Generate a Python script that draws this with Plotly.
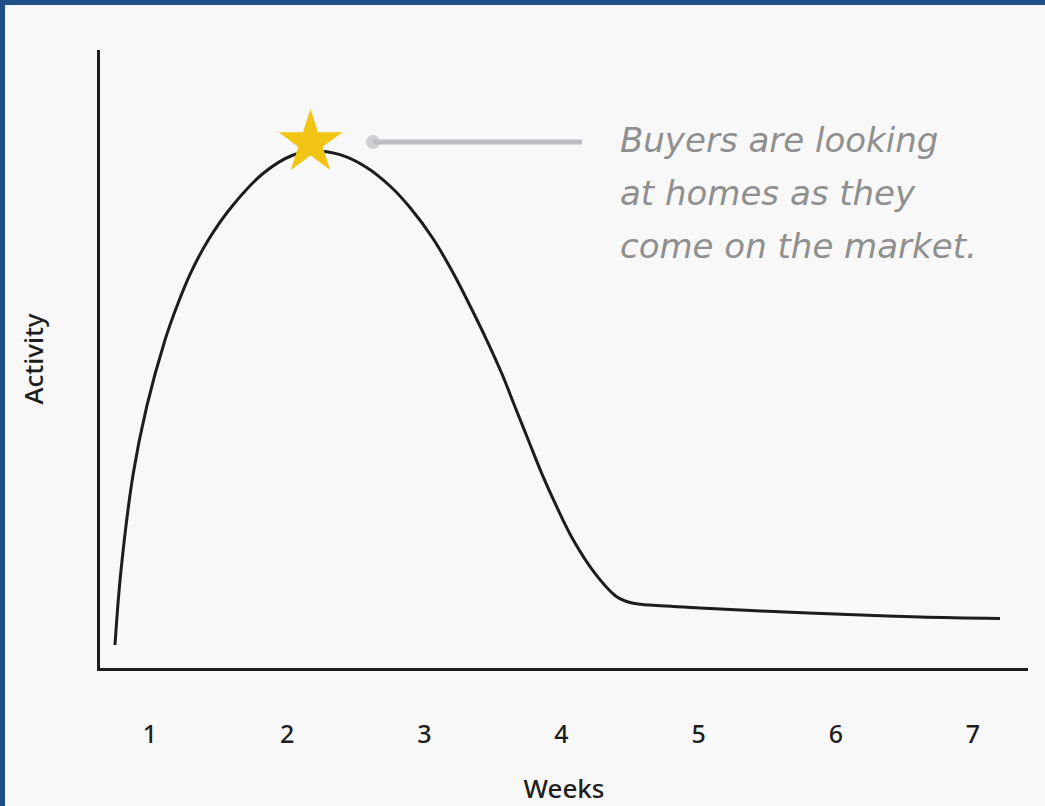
import plotly.graph_objects as go

# Weekly activity curve for a newly listed home
weeks = [0.7448, 0.7864, 0.8783, 0.9759, 1.1094, 1.1946, 1.2953, 1.4250,
         1.5956, 1.8260, 2.0447, 2.2102, 2.3851, 2.5798, 2.7497, 2.8955,
         3.0653, 3.2111, 3.3365, 3.4546, 3.5640, 3.6609, 3.7580, 3.8556,
         3.9649, 4.0860, 4.2441, 4.4023, 4.5234, 4.6451, 5.0097, 5.4543,
         6.0886, 6.6134, 7.1967]
activity = [3.72, 15.32, 31.50, 42.28, 53.07, 58.46, 63.87, 69.26,
            74.64, 80.05, 83.01, 83.66, 83.06, 81.00, 77.99, 74.51,
            69.42, 63.87, 58.46, 53.07, 47.69, 42.28, 36.89, 31.50,
            26.10, 20.71, 15.32, 11.54, 10.47, 10.19, 9.71, 9.22,
            8.66, 8.25, 8.01]

# Peak highlight and callout
star_week = [2.17]
star_level = [85.0]
callout_weeks = [2.626, 4.149]
callout_level = [85.1, 85.1]
callout_lines = ["Buyers are looking", "at homes as they", "come on the market."]
callout_line_levels = [85.4, 76.9, 68.3]
callout_text_week = 4.412

tick_vals = [1, 2, 3, 4, 5, 6, 7]
tick_text = ["1", "2", "3", "4", "5", "6", "7"]

W, H = 1045, 806
ML, MR, MT, MB = 100, 17, 50, 138
BG = "#f8f8f8"
INK = "#1c1c1c"

fig = go.Figure()

fig.add_trace(go.Scatter(
    x=weeks, y=activity, mode="lines",
    line=dict(color=INK, width=3, shape="spline", smoothing=1.0),
    hoverinfo="skip", showlegend=False,
))

fig.add_trace(go.Scatter(
    x=callout_weeks, y=callout_level, mode="lines+markers",
    line=dict(color="#bcbec4", width=5),
    marker=dict(size=[14, 0], color="#bcbec4", line=dict(width=0)),
    hoverinfo="skip", showlegend=False,
))

fig.add_trace(go.Scatter(
    x=star_week, y=star_level, mode="markers",
    marker=dict(symbol="star", size=48, color="#f2c414", line=dict(width=0)),
    hoverinfo="skip", showlegend=False,
))

for line_text, lvl in zip(callout_lines, callout_line_levels):
    fig.add_annotation(
        x=callout_text_week, y=lvl, xref="x", yref="y",
        text=f"<i>{line_text}</i>", showarrow=False,
        xanchor="left", yanchor="middle",
        font=dict(family="DejaVu Sans", size=34, color="#8f8f8f"),
    )

# Frame edges along the top and left of the page
plot_w = W - ML - MR
plot_h = H - MT - MB
fig.add_shape(type="rect", xref="paper", yref="paper", layer="above",
              x0=-ML / plot_w, x1=(W - ML) / plot_w,
              y0=1 + (MT - 5) / plot_h, y1=1 + MT / plot_h,
              fillcolor="#1f4e84", line=dict(width=0))
fig.add_shape(type="rect", xref="paper", yref="paper", layer="above",
              x0=-ML / plot_w, x1=(5 - ML) / plot_w,
              y0=-MB / plot_h, y1=1 + MT / plot_h,
              fillcolor="#1f4e84", line=dict(width=0))

tick_font = dict(family="Noto Sans", size=25, color="#1e1e1e", weight=500)
title_font = dict(family="Noto Sans", size=26, color="#1e1e1e", weight=500)

fig.update_layout(
    width=W, height=H,
    margin=dict(l=ML, r=MR, t=MT, b=MB, pad=0),
    paper_bgcolor=BG, plot_bgcolor=BG,
    xaxis=dict(
        range=[0.6355, 7.401], showgrid=False, zeroline=False,
        showline=True, linecolor=INK, linewidth=3,
        tickmode="array", tickvals=tick_vals, ticktext=tick_text,
        ticks="", ticklabelstandoff=42, tickfont=tick_font,
        title=dict(text="Weeks", font=title_font, standoff=36),
        automargin=False, fixedrange=True,
    ),
    yaxis=dict(
        range=[0, 100], showgrid=False, zeroline=False,
        showline=True, linecolor=INK, linewidth=3,
        showticklabels=False, ticks="",
        title=dict(text="Activity", font=title_font, standoff=46),
        automargin=False, fixedrange=True,
    ),
)

fig.write_html("out.html")
